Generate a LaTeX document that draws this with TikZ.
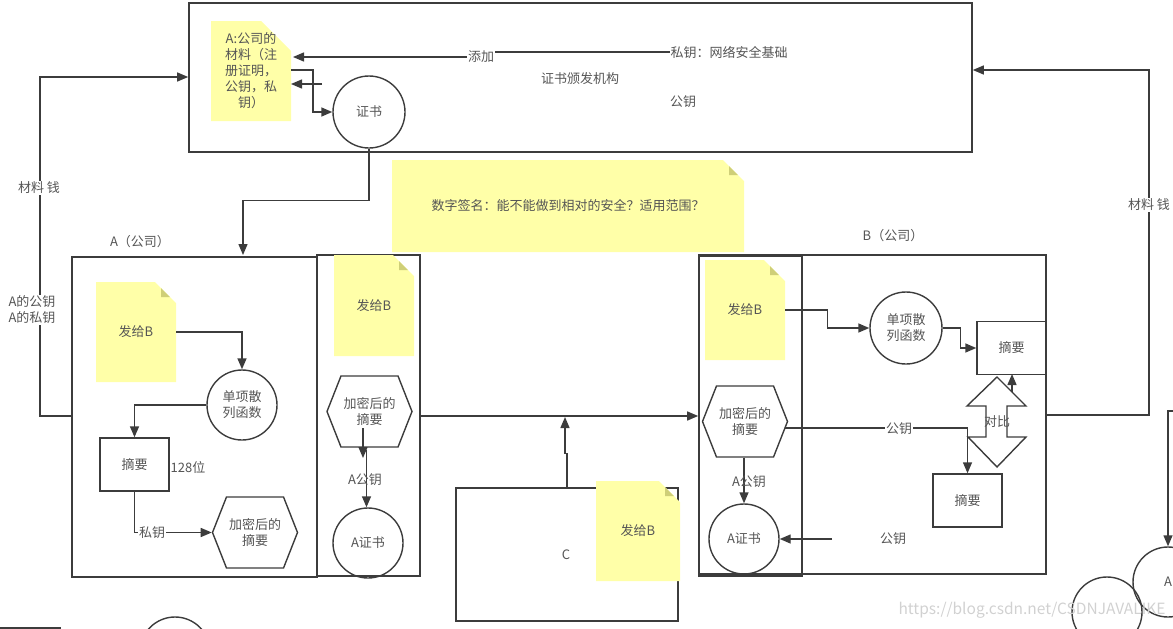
\documentclass[tikz,border=0pt]{standalone}
\usepackage{fontspec}
\setmainfont{Noto Sans CJK SC}
\usetikzlibrary{arrows.meta,calc,shapes.misc,shapes.symbols}
\definecolor{noteyellow}{HTML}{FFFFA8}
\definecolor{notefold}{HTML}{CFCF78}
\definecolor{linegray}{HTML}{3C3C3C}
\definecolor{textgray}{HTML}{555555}
\tikzset{
    every node/.style={font=\fontsize{13pt}{16pt}\selectfont,text=textgray,inner sep=0pt,align=center},
    rgn/.style={draw=linegray,line width=1.6pt,inner sep=0pt},
    circbox/.style={circle,draw=linegray,line width=1.4pt,minimum size=70pt},
    rectbox/.style={rectangle,draw=linegray,line width=1.4pt,minimum width=69pt,minimum height=53pt},
    hexbox/.style={signal,signal to=west and east,signal from=nowhere,signal pointer angle=137,
        draw=linegray,line width=1.4pt,minimum width=85pt,minimum height=71pt},
    notebox/.style={chamfered rectangle,chamfered rectangle corners={north east},chamfered rectangle xsep=15pt,
        chamfered rectangle ysep=15pt,fill=noteyellow,minimum width=80pt,minimum height=100pt,
        path picture={\fill[notefold] ($(path picture bounding box.north east)+(-15,0)$) -- ++(0,15) -- ++(15,0) -- cycle;}},
    conn/.style={draw=linegray,line width=1.4pt,-{Triangle[length=11pt,width=9pt]}},
    plain/.style={draw=linegray,line width=1.4pt},
    lbl/.style={fill=white,inner sep=1pt},
}
\begin{document}
\begin{tikzpicture}[x=1pt,y=-1pt]
    \useasboundingbox (0,0) rectangle (1173,629);
    % regions
    \node [rgn,minimum width=783pt,minimum height=149pt] (ca) at (580.5,77.5) {};
    \node [rgn,minimum width=245pt,minimum height=320pt] (boxA) at (194.5,417) {};
    \node [rgn,minimum width=103pt,minimum height=321pt] (boxAin) at (368.5,415.5) {};
    \node [rgn,minimum width=347pt,minimum height=319pt] (boxB) at (872.5,414.5) {};
    \node [rgn,minimum width=103pt,minimum height=320pt] (boxBin) at (750.5,416) {};
    \node [rgn,minimum width=222pt,minimum height=133pt] (boxC) at (567,554.5) {};
    % notes
    \node [notebox,inner ysep=-5pt,inner xsep=-1.5pt] (matA) at (251,71) {A:公司的\\材料（注\\册证明，\\公钥，私\\钥）};
    \node [notebox,minimum width=352pt,minimum height=92pt] (question) at (568,206) {数字签名：能不能做到相对的安全？适用范围？};
    \node [notebox] (sendA) at (136,332) {发给B};
    \node [notebox,minimum height=101pt] (sendAin) at (374,305.5) {发给B};
    \node [notebox] (sendB) at (745,310) {发给B};
    \node [notebox,minimum width=84pt] (sendC) at (638,531) {发给B};
    % shapes
    \node [circbox,minimum size=72pt] (cert) at (369,112) {证书};
    \node [circbox] (funcA) at (242,405) {单项散\\列函数};
    \node [rectbox] (digestA) at (134.5,464.5) {摘要};
    \node [hexbox] (hexA) at (255,532.5) {加密后的\\摘要};
    \node [hexbox] (hexAin) at (369.5,411.5) {加密后的\\摘要};
    \node [circbox] (certA) at (368,543) {A证书};
    \node [hexbox] (hexB) at (745,421.5) {加密后的\\摘要};
    \node [circbox] (certB) at (744,539) {A证书};
    \node [circbox,minimum size=72pt] (funcB) at (906,328) {单项散\\列函数};
    \node [rectbox] (digestB) at (1011.5,348) {摘要};
    \node [rectbox] (digestBb) at (967.5,500.5) {摘要};
    \node [circbox] (certR) at (1168,582) {A};
    \node [circbox] (roundR) at (1107,612) {};
    \node [circbox] (roundL) at (175,652) {};
    % compare arrow
    \draw [plain] (997,377) -- (1026,406) -- (1007,406) -- (1007,437) -- (1026,437) -- (997,467)
        -- (968,437) -- (986,437) -- (986,406) -- (967,406) -- cycle;
    \node (cmp) at (997,422) {对比};
    % loose ends
    \coordinate (keyStart) at (670,52);
    \coordinate (matOut) at (291,70);
    \coordinate (matBack) at (322,84);
    \coordinate (hexAa) at (363,428);
    \coordinate (hexAb) at (366.5,450);
    \coordinate (hexBout) at (785,428);
    \coordinate (certIn) at (832,539);
    \coordinate (cmpOut) at (1012,392);
    \coordinate (edgeL) at (0,628);
    \coordinate (edgeLb) at (61,628);
    \coordinate (edgeR) at (1173,411);
    % connectors
    \draw [conn] (keyStart) -- (490,52) -- (490,57) -- (293,57);
    \draw [conn] (matOut) -- (313,70) |- (cert.west);
    \draw [conn] (matBack) -- (291,84);
    \draw [conn] (cert.south) -- ++(0,52) -| (243,255);
    \draw [conn] (boxA.west |- 0,416) -- (40,416) |- (ca.west |- 0,77);
    \draw [conn] (boxB.east |- 0,415) -- (1149,415) |- (ca.east |- 0,70);
    \draw [conn] (sendA.east) -| (funcA.north);
    \draw [conn] (funcA.west) -| (digestA.north);
    \draw [conn] (digestA.south) |- (hexA.west);
    \draw [conn] (hexAa) -- ++(0,30);
    \draw [conn] (hexAb) -- (certA.north -| hexAb);
    \draw [conn] (boxAin.east |- 0,416) -- (boxBin.west |- 0,416);
    \draw [conn] (boxC.north) -- ++(0,-34) -- ++(-2,0) -- (565,417);
    \draw [conn] (sendB.east) -- ++(42,0) |- (funcB.west);
    \draw [conn] (funcB.east) -- ++(18,0) |- (digestB.west);
    \draw [conn] (hexBout) -| (digestBb.north);
    \draw [conn] (hexB.south -| certB) -- (certB.north);
    \draw [conn] (certIn) -- (certB.east);
    \draw [conn] (cmpOut) -- (1012,374);
    \draw [conn] (edgeR) -- (1168,411) -- (certR.north);
    \draw [plain] (edgeL) -- (edgeLb);
    % texts
    \node [lbl] (addLbl) at (481,57) {添加};
    \node [lbl] (keyLbl) at (729,53) {私钥：网络安全基础};
    \node (caLbl) at (580,79) {证书颁发机构};
    \node (pubLbl) at (683,102) {公钥};
    \node (nameA) at (140,242) {A（公司）};
    \node (nameB) at (893,236) {B（公司）};
    \node [lbl] (feeL) at (39,188) {材料 钱};
    \node [lbl] (feeR) at (1149,205) {材料 钱};
    \node [lbl] (keysA) at (32,310) {A的公钥\\A的私钥};
    \node (bits) at (188,467) {128位};
    \node [lbl] (signLbl) at (152,533) {私钥};
    \node (pubA) at (365,480) {A公钥};
    \node (pubB) at (749,482) {A公钥};
    \node [lbl] (pubLine) at (899,429) {公钥};
    \node (pubCert) at (893,539) {公钥};
    \node (nameC) at (566,555) {C};
    \node [text=black!18,font=\fontsize{15.5pt}{16pt}\selectfont] (mark) at (1032,610) {https://blog.csdn.net/CSDNJAVALIKE};
\end{tikzpicture}
\end{document}
